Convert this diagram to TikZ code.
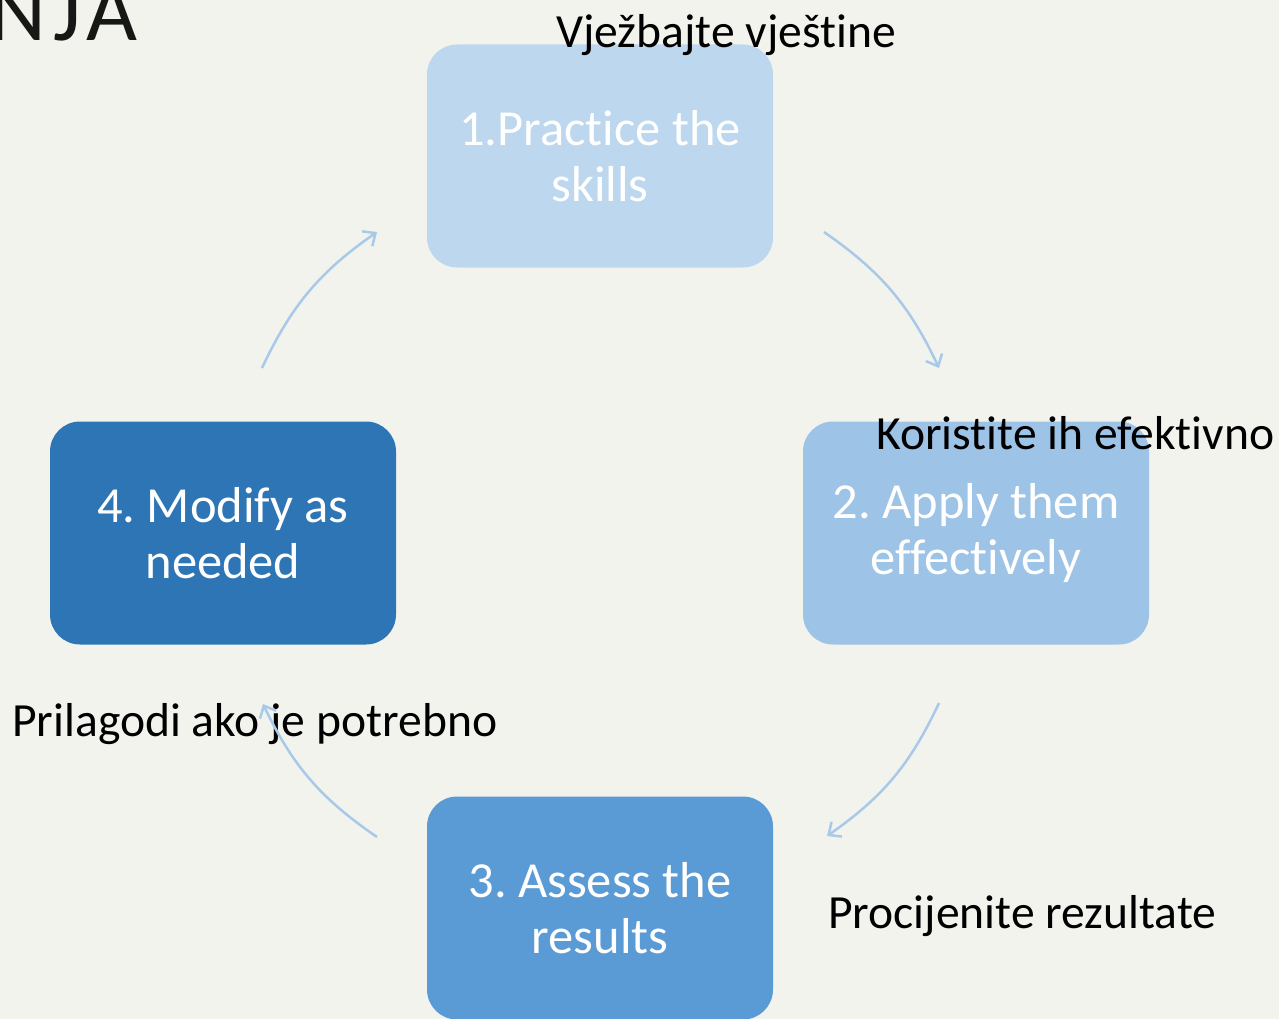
\documentclass[tikz,border=0pt]{standalone}
\usepackage{fontspec}
\setmainfont{Carlito}[Ligatures=NoCommon]
\usetikzlibrary{arrows.meta}
\frenchspacing

\definecolor{bgcol}{HTML}{F3F3EE}
\definecolor{boxa}{HTML}{BDD7EE}
\definecolor{boxb}{HTML}{9DC3E6}
\definecolor{boxc}{HTML}{5B9BD5}
\definecolor{boxd}{HTML}{2E75B6}
\definecolor{arrowcol}{HTML}{A9C9E8}
\definecolor{inkcol}{HTML}{161815}

\begin{document}
\begin{tikzpicture}[x=1pt, y=-1pt]

\def \bw {346pt}
\def \bh {223pt}

\tikzset{stepbox/.style = {rounded corners=30pt, minimum width=\bw, minimum height=\bh, inner sep=0pt, align=center, text=white, font=\fontsize{50.5}{56}\selectfont}}
\tikzset{note/.style = {anchor=base west, inner sep=0pt, text=black, font=\fontsize{47.6}{56}\selectfont}}
\tikzset{flow/.style = {draw=arrowcol, line width=2.5pt, -{Straight Barb[length=10pt, width=18pt, line width=2.5pt]}}}

\path[use as bounding box, fill=bgcol] (0, 0) rectangle (1279, 1019);

\node[anchor=base east, inner sep=0pt, text=inkcol, font=\fontsize{88}{90}\selectfont\addfontfeature{LetterSpace=8}] (T) at (138, 41) {NJA};

\node[stepbox, fill=boxa] (B1) at (600, 156) {1.Practice the\\skills};
\node[stepbox, fill=boxb] (B2) at (976, 533) {2. Apply them\\effectively};
\node[stepbox, fill=boxc] (B3) at (600, 908) {3. Assess the\\results};
\node[stepbox, fill=boxd] (B4) at (223, 533) {4. Modify as\\needed};

\node[note] (N1) at (556, 48) {Vježbajte vještine};
\node[note] (N2) at (876, 449) {Koristite ih efektivno};
\node[note] (N3) at (12, 736) {Prilagodi ako je potrebno};
\node[note] (N4) at (828, 928) {Procijenite rezultate};

\coordinate (S1) at (824, 232);
\coordinate (E1) at (939, 368);
\coordinate (S2) at (939, 703);
\coordinate (E2) at (827, 836);
\coordinate (S3) at (377, 837);
\coordinate (E3) at (263, 704);
\coordinate (S4) at (262, 368);
\coordinate (E4) at (377, 232);

\foreach \i in {1,...,4}
{
	\draw[flow] (S\i) to[bend left=15] (E\i);
}

\end{tikzpicture}
\end{document}
